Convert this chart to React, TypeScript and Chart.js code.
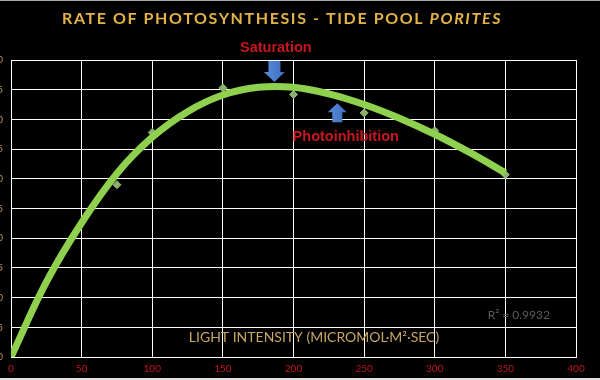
import React, { useEffect, useRef } from "react";
import { Chart, registerables } from "chart.js";

Chart.register(...registerables);

// Measured data (light intensity vs rate)
const lightLevels = [0, 75, 100, 150, 200, 250, 300, 350];
const rateValues = [0, 29.0, 37.8, 45.3, 44.2, 41.1, 38.1, 30.7];

// Trendline
const trendX = [0, 25, 50, 75, 100, 125, 150, 175, 200, 225, 250, 275, 300, 325, 350];
const trendY = [0, 12.6, 22.6, 30.9, 37.0, 41.3, 44.1, 45.4, 45.4, 44.3, 42.5, 40.2, 37.5, 34.4, 31.0];

const xTicks = [0, 50, 100, 150, 200, 250, 300, 350, 400];
const yTicks = [0, 5, 10, 15, 20, 25, 30, 35, 40, 45, 50];

const TITLE_A = "RATE OF PHOTOSYNTHESIS - TIDE POOL ";
const TITLE_B = "PORITES";
const X_TITLE = "LIGHT INTENSITY (MICROMOL\u00B7M\u00B2\u00B7SEC)";
const R2_TEXT = "R\u00B2 = 0.9932";

// annotation anchors in data units
const satLabel = { x: 187.5, y: 52.0, text: "Saturation" };
const satArrow = { x: 186.5, y: 46.3 };
const photoLabel = { x: 237, y: 37.0, text: "Photoinhibition" };
const photoArrow = { x: 231, y: 42.7 };
const r2Pos = { x: 359.5, y: 7.0 };

const OFF = 29;
const W = 600 + OFF;
const H = 380;

function drawArrow(ctx: CanvasRenderingContext2D, x: number, tipY: number, dir: number, len: number, headLen: number, headW: number, shaftW: number) {
  // dir = 1: pointing down (tip at bottom), -1: pointing up
  const baseY = tipY - dir * len;
  const headBase = tipY - dir * headLen;
  const g = ctx.createLinearGradient(x - headW / 2, 0, x + headW / 2, 0);
  g.addColorStop(0, "#5a8ddb");
  g.addColorStop(1, "#3d6cc0");
  ctx.fillStyle = g;
  ctx.beginPath();
  ctx.moveTo(x - shaftW / 2, baseY);
  ctx.lineTo(x + shaftW / 2, baseY);
  ctx.lineTo(x + shaftW / 2, headBase);
  ctx.lineTo(x + headW / 2, headBase);
  ctx.lineTo(x, tipY);
  ctx.lineTo(x - headW / 2, headBase);
  ctx.lineTo(x - shaftW / 2, headBase);
  ctx.closePath();
  ctx.fill();
}

const decorPlugin = {
  id: "decor",
  afterDatasetsDraw(chart: any) {
    const ctx: CanvasRenderingContext2D = chart.ctx;
    const xs = chart.scales.x;
    const ys = chart.scales.y;
    ctx.save();

    // Title
    ctx.textBaseline = "middle";
    ctx.textAlign = "left";
    ctx.fillStyle = "#e3b348";
    const fA = 'bold 16px Lato';
    const fB = 'italic bold 16px Lato';
    (ctx as any).letterSpacing = "0px";
    ctx.font = fA;
    const wA = ctx.measureText(TITLE_A).width;
    ctx.font = fB;
    const wB = ctx.measureText(TITLE_B).width;
    const n = TITLE_A.length + TITLE_B.length;
    const sp = (440 - wA - wB) / n;
    (ctx as any).letterSpacing = sp + "px";
    const x0 = 62 + OFF;
    ctx.font = fA;
    ctx.fillText(TITLE_A, x0, 19);
    ctx.font = fB;
    ctx.fillText(TITLE_B, x0 + wA + sp * TITLE_A.length, 19);
    (ctx as any).letterSpacing = "0px";

    // X axis title inside plot
    ctx.textAlign = "center";
    ctx.font = '14px Lato';
    ctx.fillStyle = "#c8a664";
    ctx.fillText(X_TITLE, 314 + OFF, 337);

    // R squared
    ctx.font = '12px Lato';
    ctx.fillStyle = "#5c5c5c";
    ctx.fillText(R2_TEXT, xs.getPixelForValue(r2Pos.x), ys.getPixelForValue(r2Pos.y));

    // annotations
    ctx.font = 'bold 14.5px "Liberation Sans"';
    ctx.fillStyle = "#c8161e";
    ctx.fillText(satLabel.text, xs.getPixelForValue(satLabel.x), ys.getPixelForValue(satLabel.y));
    ctx.fillText(photoLabel.text, xs.getPixelForValue(photoLabel.x), ys.getPixelForValue(photoLabel.y));

    drawArrow(ctx, xs.getPixelForValue(satArrow.x), ys.getPixelForValue(satArrow.y), 1, 21, 10, 21, 12);
    drawArrow(ctx, xs.getPixelForValue(photoArrow.x), ys.getPixelForValue(photoArrow.y), -1, 19, 9, 19, 10);

    ctx.restore();
  },
};

export default function App() {
  const ref = useRef<HTMLCanvasElement | null>(null);
  useEffect(() => {
    if (!ref.current) return;
    const chart = new Chart(ref.current, {
      type: "scatter",
      data: {
        datasets: [
          {
            label: "Trend",
            data: trendX.map((x, i) => ({ x, y: trendY[i] })),
            showLine: true,
            borderColor: "#8fd14f",
            backgroundColor: "#8fd14f",
            borderWidth: 7,
            pointRadius: 0,
            tension: 0.4,
            order: 0,
          } as any,
          {
            label: "Rate",
            data: lightLevels.map((x, i) => ({ x, y: rateValues[i] })),
            pointStyle: "rectRot",
            pointRadius: 4,
            backgroundColor: "#8daf6c",
            borderColor: "#8daf6c",
            order: 1,
          } as any,
        ],
      },
      options: {
        animation: false,
        responsive: false,
        devicePixelRatio: 1,
        layout: { padding: { top: 60, right: 24, left: 0, bottom: 0 } },
        plugins: { legend: { display: false }, tooltip: { enabled: false }, title: { display: false } },
        scales: {
          x: {
            type: "linear",
            min: 0,
            max: 400,
            afterBuildTicks: (s: any) => { s.ticks = xTicks.map((v) => ({ value: v })); },
            ticks: { color: "#c0141c", font: { size: 10, family: "Lato" }, padding: 6, maxRotation: 0 },
            grid: { color: "#ffffff", lineWidth: 1, drawTicks: false },
            border: { color: "#ffffff" },
            afterFit: (s: any) => { s.height = 23; },
          },
          y: {
            min: 0,
            max: 50,
            afterBuildTicks: (s: any) => { s.ticks = yTicks.map((v) => ({ value: v })); },
            ticks: { color: "#b8925a", font: { size: 10, family: "Lato" }, padding: 8 },
            grid: { color: "#ffffff", lineWidth: 1, drawTicks: false },
            border: { color: "#ffffff" },
            afterFit: (s: any) => { s.width = 40; },
          },
        },
      } as any,
      plugins: [decorPlugin],
    });
    return () => chart.destroy();
  }, []);

  return (
    <div style={{ position: "fixed", left: 0, top: 0, width: 600, height: 380, background: "#000", overflow: "hidden" }}>
      <canvas ref={ref} width={W} height={H} style={{ position: "absolute", left: -OFF, top: 0, width: W, height: H }} />
      <div style={{ position: "absolute", left: 0, top: 0, width: 600, height: 1, background: "#a8a8a8" }} />
      <div style={{ position: "absolute", left: 0, top: 378, width: 600, height: 2, background: "#e0e0e0" }} />
    </div>
  );
}
